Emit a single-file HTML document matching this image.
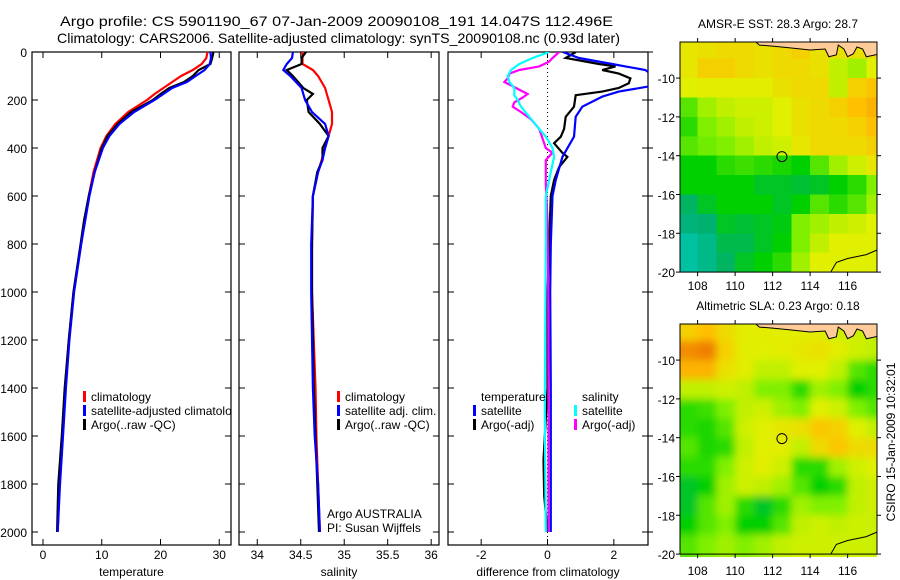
<!DOCTYPE html>
<html><head><meta charset="utf-8"><style>
body{margin:0;background:#fff}
svg{display:block;font-family:"Liberation Sans",sans-serif}
</style></head><body>
<svg id="c" width="900" height="580" viewBox="0 0 900 580">
<defs>
<clipPath id="cp1"><rect x="32" y="52" width="199" height="493"/></clipPath>
<clipPath id="cp2"><rect x="239" y="52" width="200" height="493"/></clipPath>
<clipPath id="cp3"><rect x="448" y="52" width="200" height="493"/></clipPath>
<clipPath id="cm1"><rect x="680" y="42" width="197" height="230"/></clipPath>
<clipPath id="cm2"><rect x="680" y="324" width="197" height="233"/></clipPath>
<filter id="blur" filterUnits="userSpaceOnUse" x="660" y="300" width="240" height="280"><feGaussianBlur stdDeviation="4"/></filter>
</defs>
<text x="60" y="26" font-size="14" textLength="553" lengthAdjust="spacingAndGlyphs">Argo profile: CS 5901190_67 07-Jan-2009 20090108_191 14.047S 112.496E</text>
<text x="57" y="43" font-size="14" textLength="563" lengthAdjust="spacingAndGlyphs">Climatology: CARS2006. Satellite-adjusted climatology: synTS_20090108.nc (0.93d later)</text>
<g id="g"></g>
</svg>
<script>
// ---------- profile data ----------
const tempDepths = [0,25,50,75,100,125,150,175,200,250,300,350,400,500,600,700,800,1000,1200,1400,1600,1800,2000];
const tempClim   = [28.0,27.8,27.0,25.5,23.5,22.0,20.5,19.0,17.7,14.5,12.3,10.8,9.8,8.6,7.8,7.1,6.5,5.2,4.4,3.8,3.3,2.8,2.5];
const tempSat    = [28.5,28.6,28.4,27.5,26.0,24.5,22.0,20.5,19.0,15.5,13.0,11.3,10.2,8.8,7.9,7.2,6.5,5.3,4.5,3.9,3.4,2.9,2.5];
const tempArgo   = [29.0,28.8,28.5,26.5,25.5,24.0,21.5,20.0,18.7,15.0,12.7,11.0,10.0,8.8,7.8,7.0,6.4,5.2,4.4,3.7,3.2,2.6,2.4];
const salDepths  = [0,25,50,75,100,150,175,200,250,300,350,400,450,500,600,800,1000,1400,1600,1800,2000];
const salClim    = [34.52,34.52,34.52,34.64,34.70,34.78,34.80,34.82,34.86,34.86,34.82,34.78,34.74,34.70,34.64,34.63,34.63,34.67,34.68,34.70,34.72];
const salSat     = [34.41,34.40,34.34,34.30,34.38,34.51,34.53,34.55,34.63,34.78,34.82,34.78,34.75,34.70,34.64,34.62,34.62,34.64,34.66,34.70,34.72];
const salArgo    = [34.56,34.51,34.51,34.34,34.41,34.53,34.64,34.57,34.59,34.72,34.82,34.75,34.75,34.69,34.64,34.63,34.63,34.65,34.67,34.69,34.71];
const dTempSatDepths = [0,25,50,60,75,90,110,140,165,186,228,270,353,437,533,600,800,1000,1400,1800,2000];
const dTempSat       = [0.46,0.95,1.95,2.35,2.95,3.1,3.2,3.2,2.15,1.65,1.05,0.85,0.8,0.45,0.25,0.15,0.1,0.08,0.1,0.1,0.1];
const dTempArgoDepths= [0,25,50,60,75,90,110,130,150,165,180,228,270,320,353,380,420,437,480,533,600,800,1000,1400,1700,1850,2000];
const dTempArgo      = [0.85,0.55,1.55,2.05,1.65,2.15,2.5,2.45,2.15,1.65,0.85,0.8,0.55,0.5,0.4,0.2,0.45,0.6,0.35,0.2,0.1,0.05,0.0,0.0,-0.12,-0.1,0.0];
const dSalSatDepths  = [0,25,50,75,100,125,150,180,200,228,270,320,353,400,437,500,600,800,1000,1500,2000];
const dSalSat        = [0.05,-0.45,-0.85,-1.1,-1.2,-1.15,-1.0,-1.0,-0.9,-0.8,-0.55,-0.25,-0.05,0.15,0.2,0.1,-0.05,-0.05,-0.06,-0.08,-0.05];
const dSalArgoDepths = [0,25,40,60,75,90,110,125,150,175,190,210,228,250,280,320,360,400,420,450,550,700,1000,1500,2000];
const dSalArgo       = [0.35,0.15,0.05,-0.25,-0.85,-1.15,-1.2,-1.3,-0.95,-0.6,-0.75,-1.0,-1.05,-0.8,-0.5,-0.25,-0.15,-0.05,0.15,-0.05,-0.05,0.0,0.02,0.03,0.03];
const depthTicks = [0,200,400,600,800,1000,1200,1400,1600,1800,2000];
const tempTicks = [0,10,20,30];
const salTicks = [34,34.5,35,35.5,36];
const salTickLabels = ["34","34.5","35","35.5","36"];
const diffTicks = [-2,0,2];
// ---------- map data (0..1 colour index, rows lat -8..-20, cols lon 107..118) ----------
const mapLons = [107,108,109,110,111,112,113,114,115,116,117];
const mapLats = [-8,-9,-10,-11,-12,-13,-14,-15,-16,-17,-18,-19];
const sstGrid = [
[0.68,0.70,0.72,0.72,0.70,0.72,0.75,0.70,0.70,0.70,0.70],
[0.68,0.75,0.75,0.72,0.70,0.72,0.72,0.70,0.60,0.55,0.65],
[0.65,0.66,0.66,0.66,0.66,0.70,0.72,0.72,0.60,0.75,0.78],
[0.45,0.55,0.60,0.62,0.62,0.65,0.70,0.72,0.75,0.80,0.82],
[0.40,0.50,0.55,0.60,0.62,0.65,0.70,0.72,0.72,0.75,0.80],
[0.45,0.48,0.50,0.55,0.60,0.62,0.68,0.72,0.72,0.72,0.75],
[0.35,0.35,0.40,0.42,0.40,0.38,0.35,0.45,0.55,0.62,0.68],
[0.35,0.35,0.35,0.35,0.30,0.30,0.28,0.30,0.35,0.40,0.50],
[0.22,0.30,0.35,0.35,0.35,0.30,0.35,0.45,0.40,0.45,0.55],
[0.18,0.20,0.30,0.28,0.30,0.33,0.50,0.55,0.60,0.62,0.65],
[0.10,0.15,0.25,0.25,0.30,0.35,0.50,0.60,0.65,0.65,0.65],
[0.10,0.15,0.22,0.30,0.35,0.40,0.55,0.65,0.65,0.65,0.65]];
const slaGrid = [
[0.75,0.80,0.72,0.66,0.66,0.66,0.66,0.66,0.62,0.62,0.60],
[0.88,0.90,0.75,0.66,0.65,0.66,0.68,0.70,0.66,0.62,0.60],
[0.82,0.82,0.70,0.66,0.60,0.60,0.65,0.65,0.60,0.45,0.40],
[0.60,0.60,0.62,0.60,0.50,0.50,0.40,0.55,0.50,0.35,0.40],
[0.40,0.42,0.50,0.60,0.62,0.55,0.50,0.65,0.62,0.50,0.45],
[0.40,0.38,0.45,0.62,0.65,0.68,0.70,0.78,0.75,0.65,0.60],
[0.45,0.38,0.40,0.60,0.65,0.66,0.60,0.72,0.78,0.72,0.72],
[0.40,0.40,0.50,0.62,0.66,0.62,0.40,0.40,0.55,0.62,0.65],
[0.30,0.35,0.55,0.62,0.60,0.55,0.45,0.35,0.40,0.60,0.62],
[0.30,0.45,0.55,0.40,0.30,0.40,0.55,0.50,0.50,0.60,0.62],
[0.35,0.45,0.50,0.35,0.35,0.45,0.60,0.62,0.60,0.62,0.62],
[0.45,0.50,0.55,0.50,0.55,0.60,0.62,0.62,0.62,0.62,0.62]];
const lonTicks = [108,110,112,114,116];
const latTicks = [-10,-12,-14,-16,-18,-20];
const argoLon = 112.496, argoLat = -14.047;
const landLon = [111.1,111.3,112,113,114,114.8,115.0,115.4,115.5,115.8,116.0,116.3,116.5,116.8,117.0,117.5,117.6,117.6];
const landLat = [-8.14,-8.3,-8.35,-8.45,-8.55,-8.5,-8.9,-8.8,-8.3,-8.5,-8.9,-8.75,-8.4,-8.5,-8.9,-8.8,-8.8,-8.14];
const coastLon = [115.1,115.4,116,117,117.6];
const coastLat = [-20,-19.5,-19.3,-19.1,-18.85];

const NS='http://www.w3.org/2000/svg';
const G=document.getElementById('g');
function mk(tag,attrs,parent){const e=document.createElementNS(NS,tag);for(const k in attrs)e.setAttribute(k,attrs[k]);(parent||G).appendChild(e);return e;}
function txt(x,y,s,size,anchor,parent){const t=mk('text',{x:x,y:y,'font-size':size,'text-anchor':anchor||'start'},parent);t.textContent=s;return t;}

const Y=d=>52+d*0.24;
const panels=[
 {x0:32,x1:231,vmin:-1.87,vmax:32,clip:'cp1',name:'temperature'},
 {x0:239,x1:439,vmin:33.79,vmax:36.09,clip:'cp2',name:'salinity'},
 {x0:448,x1:648,vmin:-3,vmax:3.03,clip:'cp3',name:'difference'}];
panels.forEach(p=>{p.X=v=>p.x0+(v-p.vmin)/(p.vmax-p.vmin)*(p.x1-p.x0);});

function frame(p,xt,xl,label,rightTicks){
  const r=mk('rect',{x:p.x0,y:52,width:p.x1-p.x0,height:493,fill:'none',stroke:'#000','stroke-width':1.2});
  
  
  xt.forEach((v,i)=>{const x=p.X(v);
    mk('line',{x1:x,x2:x,y1:545,y2:539,stroke:'#000'});
    mk('line',{x1:x,x2:x,y1:52,y2:58,stroke:'#000'});
    const t=txt(x,559,xl[i],12,'middle');
    
    });
  depthTicks.forEach(d=>{
    mk('line',{x1:p.x0,x2:p.x0+6,y1:Y(d),y2:Y(d),stroke:'#000'});
    mk('line',{x1:p.x1,x2:p.x1-6,y1:Y(d),y2:Y(d),stroke:'#000'});
    if(rightTicks) mk('line',{x1:p.x1,x2:p.x1+5,y1:Y(d),y2:Y(d),stroke:'#000'});});
  const t=txt((p.x0+p.x1)/2,576,label,12,'middle');
  
  
}
frame(panels[0],tempTicks,tempTicks.map(String),'temperature');
frame(panels[1],salTicks,salTickLabels,'salinity');
frame(panels[2],diffTicks,diffTicks.map(String),'difference from climatology',true);
depthTicks.forEach(d=>{const t=txt(27,Y(d)+5,String(d),12,'end');
  
  });
const zl=mk('line',{x1:panels[2].X(0),x2:panels[2].X(0),y1:52,y2:545,stroke:'#000','stroke-dasharray':'1,3'});



function series(p,depths,vals,color,name){
  const pts=depths.map((d,i)=>p.X(vals[i]).toFixed(1)+','+Y(d).toFixed(1)).join(' ');
  const l=mk('polyline',{points:pts,fill:'none',stroke:color,'stroke-width':2.2,'clip-path':'url(#'+p.clip+')'});
  
  
}
series(panels[0],tempDepths,tempClim,'#ff0000','temperature-climatology-line');
series(panels[0],tempDepths,tempArgo,'#000000','temperature-argo-line');
series(panels[0],tempDepths,tempSat,'#0000ff','temperature-satellite-line');
series(panels[1],salDepths,salClim,'#ff0000','salinity-climatology-line');
series(panels[1],salDepths,salArgo,'#000000','salinity-argo-line');
series(panels[1],salDepths,salSat,'#0000ff','salinity-satellite-line');
series(panels[2],dTempArgoDepths,dTempArgo,'#000000','diff-temp-argo-line');
series(panels[2],dTempSatDepths,dTempSat,'#0000ff','diff-temp-satellite-line');
series(panels[2],dSalArgoDepths,dSalArgo,'#ff00ff','diff-sal-argo-line');
series(panels[2],dSalSatDepths,dSalSat,'#00ffff','diff-sal-satellite-line');

function legend(x,y,color,label,name,clip){
  if(color){const b=mk('rect',{x:x,y:y-10,width:3,height:11,fill:color});
    
    }
  const t=txt(x+8,y,label,12);
  if(clip) t.setAttribute('clip-path','url(#'+clip+')');
  
  
}
legend(83,401,'#ff0000','climatology','legend-climatology');
legend(83,415,'#0000ff','satellite-adjusted climatology','legend-satellite-adjusted','cp1');
legend(83,429,'#000000','Argo(..raw -QC)','legend-argo');
legend(337,401,'#ff0000','climatology','legend-sal-climatology');
legend(337,415,'#0000ff','satellite adj. clim.','legend-sal-satellite');
legend(337,429,'#000000','Argo(..raw -QC)','legend-sal-argo');
const a1=txt(327,518,'Argo AUSTRALIA',12);
const a2=txt(327,532,'PI: Susan Wijffels',12);
legend(473,401,null,'temperature','legend-temperature-header');
legend(473,415,'#0000ff','satellite','legend-diff-temp-satellite');
legend(473,429,'#000000','Argo(-adj)','legend-diff-temp-argo');
legend(574,401,null,'salinity','legend-salinity-header');
legend(574,415,'#00ffff','satellite','legend-diff-sal-satellite');
legend(574,429,'#ff00ff','Argo(-adj)','legend-diff-sal-argo');

// ---------- maps ----------
const stops=[[0,[0,210,210]],[0.2,[0,176,112]],[0.35,[0,208,0]],[0.5,[128,240,0]],[0.65,[224,240,0]],[0.8,[255,192,0]],[0.9,[240,128,0]],[1,[192,0,0]]];
function col(v){for(let i=1;i<stops.length;i++){if(v<=stops[i][0]){const a=stops[i-1],b=stops[i],t=(v-a[0])/(b[0]-a[0]);
  return 'rgb('+a[1].map((c,k)=>Math.round(c+(b[1][k]-c)*t)).join(',')+')';}}return 'rgb(192,0,0)';}
function map(top,grid,title,name,smooth,xlabY){
  const LX=lon=>680+(lon-107.06)*18.75, LY=lat=>top+(-8.14-lat)*19.4;
  const g=mk('g',{'clip-path':'url(#'+(top<100?'cm1':'cm2')+')'});
  
  
  const inner=mk('g',smooth?{filter:'url(#blur)'}:{'shape-rendering':'crispEdges'},g);
  grid.forEach((row,r)=>row.forEach((v,c)=>{
    const x0=LX(mapLons[c]),x1=LX(mapLons[c]+1),y0=LY(mapLats[r]),y1=LY(mapLats[r]-1);
    const cell=mk('rect',{x:x0-(c==0?8:0),y:y0-(r==0?8:0),width:x1-x0+0.5+(c==0||c==10?8:0),height:y1-y0+0.5+(r==0||r==11?8:0),fill:col(v)},inner);
    
    }));
  const land=mk('polygon',{points:landLon.map((l,i)=>LX(l)+','+LY(landLat[i])).join(' '),fill:'#ffcc99',stroke:'#000','stroke-width':1},g);
  
  
  const coast=mk('polyline',{points:coastLon.map((l,i)=>LX(l)+','+LY(coastLat[i])).join(' '),fill:'none',stroke:'#000','stroke-width':1},g);
  
  
  const m=mk('circle',{cx:LX(argoLon),cy:LY(argoLat),r:5,fill:'none',stroke:'#000','stroke-width':1});
  
  
  const bottom=LY(-20);
  const fr=mk('rect',{x:680,y:top,width:197,height:bottom-top,fill:'none',stroke:'#000','stroke-width':1});
  
  
  lonTicks.forEach(l=>{const x=LX(l);mk('line',{x1:x,x2:x,y1:bottom,y2:bottom+4,stroke:'#000'});mk('line',{x1:x,x2:x,y1:top,y2:top-4,stroke:'#000'});
    const t=txt(x,xlabY,String(l),12,'middle');});
  latTicks.forEach(l=>{const y=LY(l);mk('line',{x1:680,x2:676,y1:y,y2:y,stroke:'#000'});mk('line',{x1:877,x2:881,y1:y,y2:y,stroke:'#000'});
    const t=txt(675,y+5,String(l),12,'end');});
  const tt=txt(778,top-14,title,12,'middle');
}
map(42,sstGrid,'AMSR-E SST: 28.3 Argo: 28.7','sst',false,290);
map(324,slaGrid,'Altimetric SLA: 0.23 Argo: 0.18','sla',true,575);
const st=txt(0,0,'CSIRO 15-Jan-2009 10:32:01',12,'middle');
st.setAttribute('transform','translate(895,442) rotate(-90)');


</script>
</body></html>
